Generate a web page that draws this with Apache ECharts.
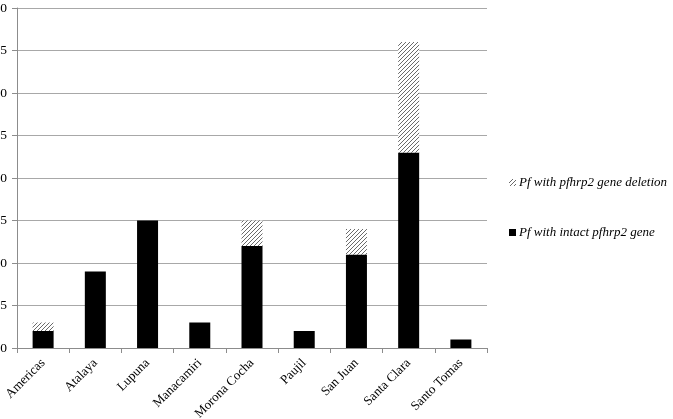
<!DOCTYPE html>
<html>
<head>
<meta charset="utf-8">
<script src="https://cdn.jsdelivr.net/npm/echarts@6/dist/echarts.min.js"></script>
<style>
  html, body { margin: 0; padding: 0; background: #fff; }
  #chart { width: 673px; height: 419px; }
</style>
</head>
<body>
<div id="chart"></div>
<script>
const categories = ['Americas', 'Atalaya', 'Lupuna', 'Manacamiri', 'Morona Cocha', 'Paujil', 'San Juan', 'Santa Clara', 'Santo Tomas']
const intact = [2, 9, 15, 3, 12, 2, 11, 23, 1]
const deletion = [1, 0, 0, 0, 3, 0, 3, 13, 0]
const yTicks = [0, 5, 10, 15, 20, 25, 30, 35, 40]

// diagonal hatch fill like the original
const makeHatch = () => {
  const c = document.createElement('canvas')
  c.width = 4
  c.height = 4
  const ctx = c.getContext('2d')
  ctx.fillStyle = '#fff'
  ctx.fillRect(0, 0, 4, 4)
  ctx.strokeStyle = '#6a6a6a'
  ctx.lineWidth = 1
  ctx.beginPath()
  ctx.moveTo(-1, 5); ctx.lineTo(5, -1)
  ctx.moveTo(-1, 1); ctx.lineTo(1, -1)
  ctx.moveTo(3, 5); ctx.lineTo(5, 3)
  ctx.stroke()
  return c
}
const hatch = { image: makeHatch(), repeat: 'repeat' }

const chart = echarts.init(document.getElementById('chart'))
const font = 'Liberation Serif'
chart.setOption({
  backgroundColor: '#fff',
  animation: false,
  grid: { left: 17, right: 186, top: 8, bottom: 71, containLabel: false, outerBoundsMode: 'none' },
  legend: {
    orient: 'vertical',
    left: 504,
    top: 171,
    itemGap: 37,
    itemWidth: 7,
    itemHeight: 7,
    icon: 'rect',
    data: ['Pf with pfhrp2 gene deletion', 'Pf with intact pfhrp2 gene'],
    textStyle: { fontFamily: font, fontStyle: 'italic', fontSize: 13, color: '#000', padding: [0, 0, 0, -2] }
  },
  xAxis: {
    type: 'category',
    data: categories,
    axisLine: { lineStyle: { color: '#8c8c8c' } },
    axisTick: { show: true, length: 5, lineStyle: { color: '#8c8c8c' } },
    axisLabel: { rotate: 45, interval: 0, fontFamily: font, fontSize: 13, color: '#000', margin: 13 }
  },
  yAxis: {
    type: 'value',
    min: yTicks[0],
    max: yTicks[yTicks.length - 1],
    interval: 5,
    axisLine: { show: true, lineStyle: { color: '#8c8c8c' } },
    axisTick: { show: true, length: 5, lineStyle: { color: '#8c8c8c' } },
    splitLine: { lineStyle: { color: '#a8a8a8', width: 1 } },
    axisLabel: { fontFamily: font, fontSize: 13.5, color: '#000', margin: 10 }
  },
  series: [
    {
      name: 'Pf with intact pfhrp2 gene',
      type: 'bar',
      stack: 'total',
      barWidth: 21,
      data: intact,
      itemStyle: { color: '#000' }
    },
    {
      name: 'Pf with pfhrp2 gene deletion',
      type: 'bar',
      stack: 'total',
      barWidth: 21,
      data: deletion,
      itemStyle: { color: hatch }
    }
  ]
})
</script>
</body>
</html>
